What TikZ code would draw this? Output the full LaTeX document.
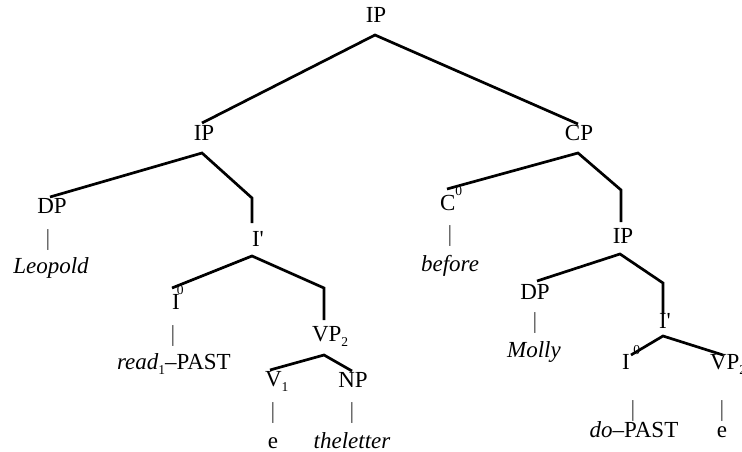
\documentclass[tikz,border=0pt]{standalone}
\usepackage{fontspec}
\setmainfont{Liberation Serif}
% small raised / lowered indices used in the category labels
\newcommand{\upidx}[1]{\raisebox{0.62em}{\fontsize{13.5}{13.5}\selectfont #1}}
\newcommand{\dnidx}[1]{\raisebox{-0.22em}{\fontsize{13.5}{13.5}\selectfont #1}}
% bar-level prime written as a straight apostrophe
\newcommand{\bprime}{\textquotesingle}

\begin{document}
\begin{tikzpicture}[x=1pt,y=-1pt,
  lbl/.style={inner sep=0pt, outer sep=0pt, font=\fontsize{23}{27}\selectfont},
  bar/.style={lbl, text=black!75},
  branch/.style={line width=2.7pt, line join=miter},
]
\useasboundingbox (0,0) rectangle (742,452);

% ---------- category labels and words ----------
\node[lbl, anchor=base] (ip0) at (376,22.5) {IP};
\node[lbl, anchor=base] (ip1) at (204,140.5) {IP};
\node[lbl, anchor=base] (cp)  at (579,140.5) {CP};

% left clause
\node[lbl, anchor=base] (dp1)  at (52,213) {DP};
\node[bar, anchor=base] (dp1b) at (48,245) {|};
\node[lbl, anchor=base] (leo)  at (51,273) {\textit{Leopold}};
\node[lbl, anchor=base west] (ib1) at (252,246) {I\bprime};
\node[lbl, anchor=base west] (i01) at (172,309) {I\kern-0.12em\upidx{0}};
\node[bar, anchor=base] (i01b) at (173,341) {|};
\node[lbl, anchor=base west] (read) at (117,369) {\textit{read}\dnidx{1}–PAST};
\node[lbl, anchor=base west] (vp1) at (312,341) {VP\dnidx{2}};
\node[lbl, anchor=base west] (v1)  at (265,386) {V\dnidx{1}};
\node[lbl, anchor=base] (np)   at (353,387) {NP};
\node[bar, anchor=base] (v1b)  at (273,418) {|};
\node[bar, anchor=base] (npb)  at (352,418) {|};
\node[lbl, anchor=base] (e1)   at (273,448) {e};
\node[lbl, anchor=base] (let)  at (352,448) {\textit{theletter}};

% right clause
\node[lbl, anchor=base west] (c0) at (440,210) {C\upidx{0}};
\node[bar, anchor=base] (c0b) at (450,241) {|};
\node[lbl, anchor=base] (bef) at (450,271) {\textit{before}};
\node[lbl, anchor=base] (ip2) at (623,243) {IP};
\node[lbl, anchor=base] (dp2) at (535,299) {DP};
\node[bar, anchor=base] (dp2b) at (535,328) {|};
\node[lbl, anchor=base] (mol) at (534,357) {\textit{Molly}};
\node[lbl, anchor=base west] (ib2) at (659,328) {I\bprime};
\node[lbl, anchor=base west] (i02) at (622,369) {I\,\upidx{0}};
\node[lbl, anchor=base west] (vp2) at (710,369) {VP\dnidx{2}};
\node[bar, anchor=base] (i02b) at (633,416) {|};
\node[bar, anchor=base] (vp2b) at (722,416) {|};
\node[lbl, anchor=base] (do) at (634,437) {\textit{do}–PAST};
\node[lbl, anchor=base] (e2) at (722,437) {e};

% ---------- branch points ----------
\coordinate (t0) at (375,35);  \coordinate (t1) at (202,123); \coordinate (t2) at (578,124);
\coordinate (p0) at (202,153); \coordinate (p1) at (50,197);  \coordinate (p2) at (252,198); \coordinate (p3) at (252,223);
\coordinate (k0) at (578,153); \coordinate (k1) at (447,189); \coordinate (k2) at (621,190); \coordinate (k3) at (621,222);
\coordinate (b0) at (252,256); \coordinate (b1) at (172,288); \coordinate (b2) at (324,288); \coordinate (b3) at (324,320);
\coordinate (v0) at (324,355); \coordinate (v1) at (270,370); \coordinate (v2) at (352,371);
\coordinate (q0) at (620,254); \coordinate (q1) at (537,281); \coordinate (q2) at (663,283); \coordinate (q3) at (663,314);
\coordinate (r0) at (663,336); \coordinate (r1) at (631,355); \coordinate (r2) at (723,355);

% ---------- branches ----------
\draw[branch] (t1) -- (t0) -- (t2);
\draw[branch] (p1) -- (p0) -- (p2) -- (p3);
\draw[branch] (k1) -- (k0) -- (k2) -- (k3);
\draw[branch] (b1) -- (b0) -- (b2) -- (b3);
\draw[branch] (v1) -- (v0) -- (v2);
\draw[branch] (q1) -- (q0) -- (q2) -- (q3);
\draw[branch] (r1) -- (r0) -- (r2);
\end{tikzpicture}
\end{document}
